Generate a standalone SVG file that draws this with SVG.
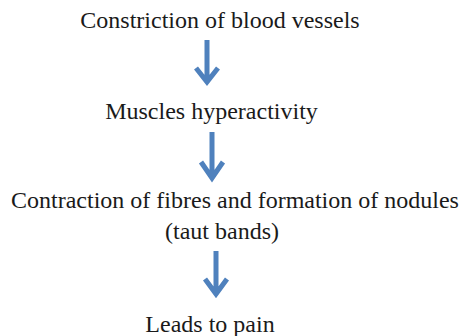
<svg xmlns="http://www.w3.org/2000/svg" width="470" height="336" viewBox="0 0 470 336">
<style>
.t{font-size:24px;fill:#1a1a1a;text-anchor:middle}
.arr{fill:none;stroke:#4f81bd;stroke-width:5;stroke-linecap:butt;stroke-linejoin:miter}
</style>
<rect width="470" height="336" fill="#fff"/>
<g font-family="'Liberation Serif', 'DejaVu Serif', serif">
<g id="n1"><text class="t" x="220" y="28">Constriction of blood vessels</text></g>
<g id="n2"><text class="t" x="211.5" y="119">Muscles hyperactivity</text></g>
<g id="n3"><text class="t" x="235" y="208">Contraction of fibres and formation of nodules</text><text class="t" x="222" y="239">(taut bands)</text></g>
<g id="n4"><text class="t" x="210" y="332">Leads to pain</text></g>
</g>
<g id="connectors">
<path class="arr" d="M207 40V82M196 68L207 82L218 68"/>
<path class="arr" d="M212 132V178M201 162L212 178L223 162"/>
<path class="arr" d="M216 251V294M205 279L216 294L227 279"/>
</g>
</svg>
